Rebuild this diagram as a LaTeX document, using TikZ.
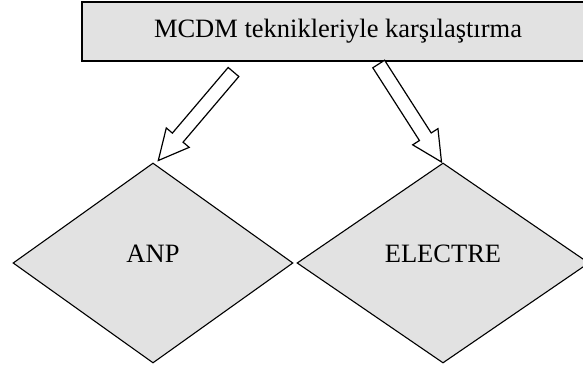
\documentclass[tikz,border=0pt]{standalone}
\usepackage{fontspec}
\setmainfont{Liberation Serif}
\usetikzlibrary{shapes.geometric,calc}
\definecolor{boxgray}{RGB}{226,226,226}
\tikzset{
  topbox/.style={draw=black, line width=1.6pt, fill=boxgray, inner sep=0pt,
    minimum width=512pt, minimum height=59pt,
    font=\fontsize{26.5}{30}\selectfont},
  choice/.style={shape=diamond, draw=black, line width=1.1pt, fill=boxgray,
    inner sep=0pt, minimum height=200pt},
  choicetext/.style={font=\fontsize{26.5}{30}\selectfont, yshift=9pt},
  fatarrow/.style={draw=black, line width=1.2pt, fill=white, line join=miter}
}
% hollow block arrow from #1 (tail centre) to #2 (tip)
\newcommand\blockarrow[2]{%
  \draw[fatarrow]
    ($(#1)!7pt!90:(#2)$)
    -- ($(#2)!30pt!(#1)!7pt!-90:(#1)$)
    -- ($(#2)!30pt!(#1)!15pt!-90:(#1)$)
    -- (#2)
    -- ($(#2)!30pt!(#1)!15pt!90:(#1)$)
    -- ($(#2)!30pt!(#1)!7pt!90:(#1)$)
    -- ($(#1)!7pt!-90:(#2)$)
    -- cycle;}
\begin{document}
\begin{tikzpicture}[x=1pt,y=-1pt]
  \clip (0,0) rectangle (583,367);
  \fill[white] (0,0) rectangle (583,367);
  \node[topbox] (mcdm) at (338,31.5) {MCDM teknikleriyle karşılaştırma};
  \node[choice, minimum width=280pt, label={[choicetext]center:ANP}] (anp) at (153,263) {};
  \node[choice, minimum width=292pt, label={[choicetext]center:ELECTRE}] (electre) at (443,263) {};
  \coordinate (lt) at (233.5,72);
  \coordinate (lh) at (158.3,160.5);
  \coordinate (rt) at (378.7,64);
  \coordinate (rh) at (441.5,162);
  \blockarrow{lt}{lh}
  \blockarrow{rt}{rh}
\end{tikzpicture}
\end{document}
